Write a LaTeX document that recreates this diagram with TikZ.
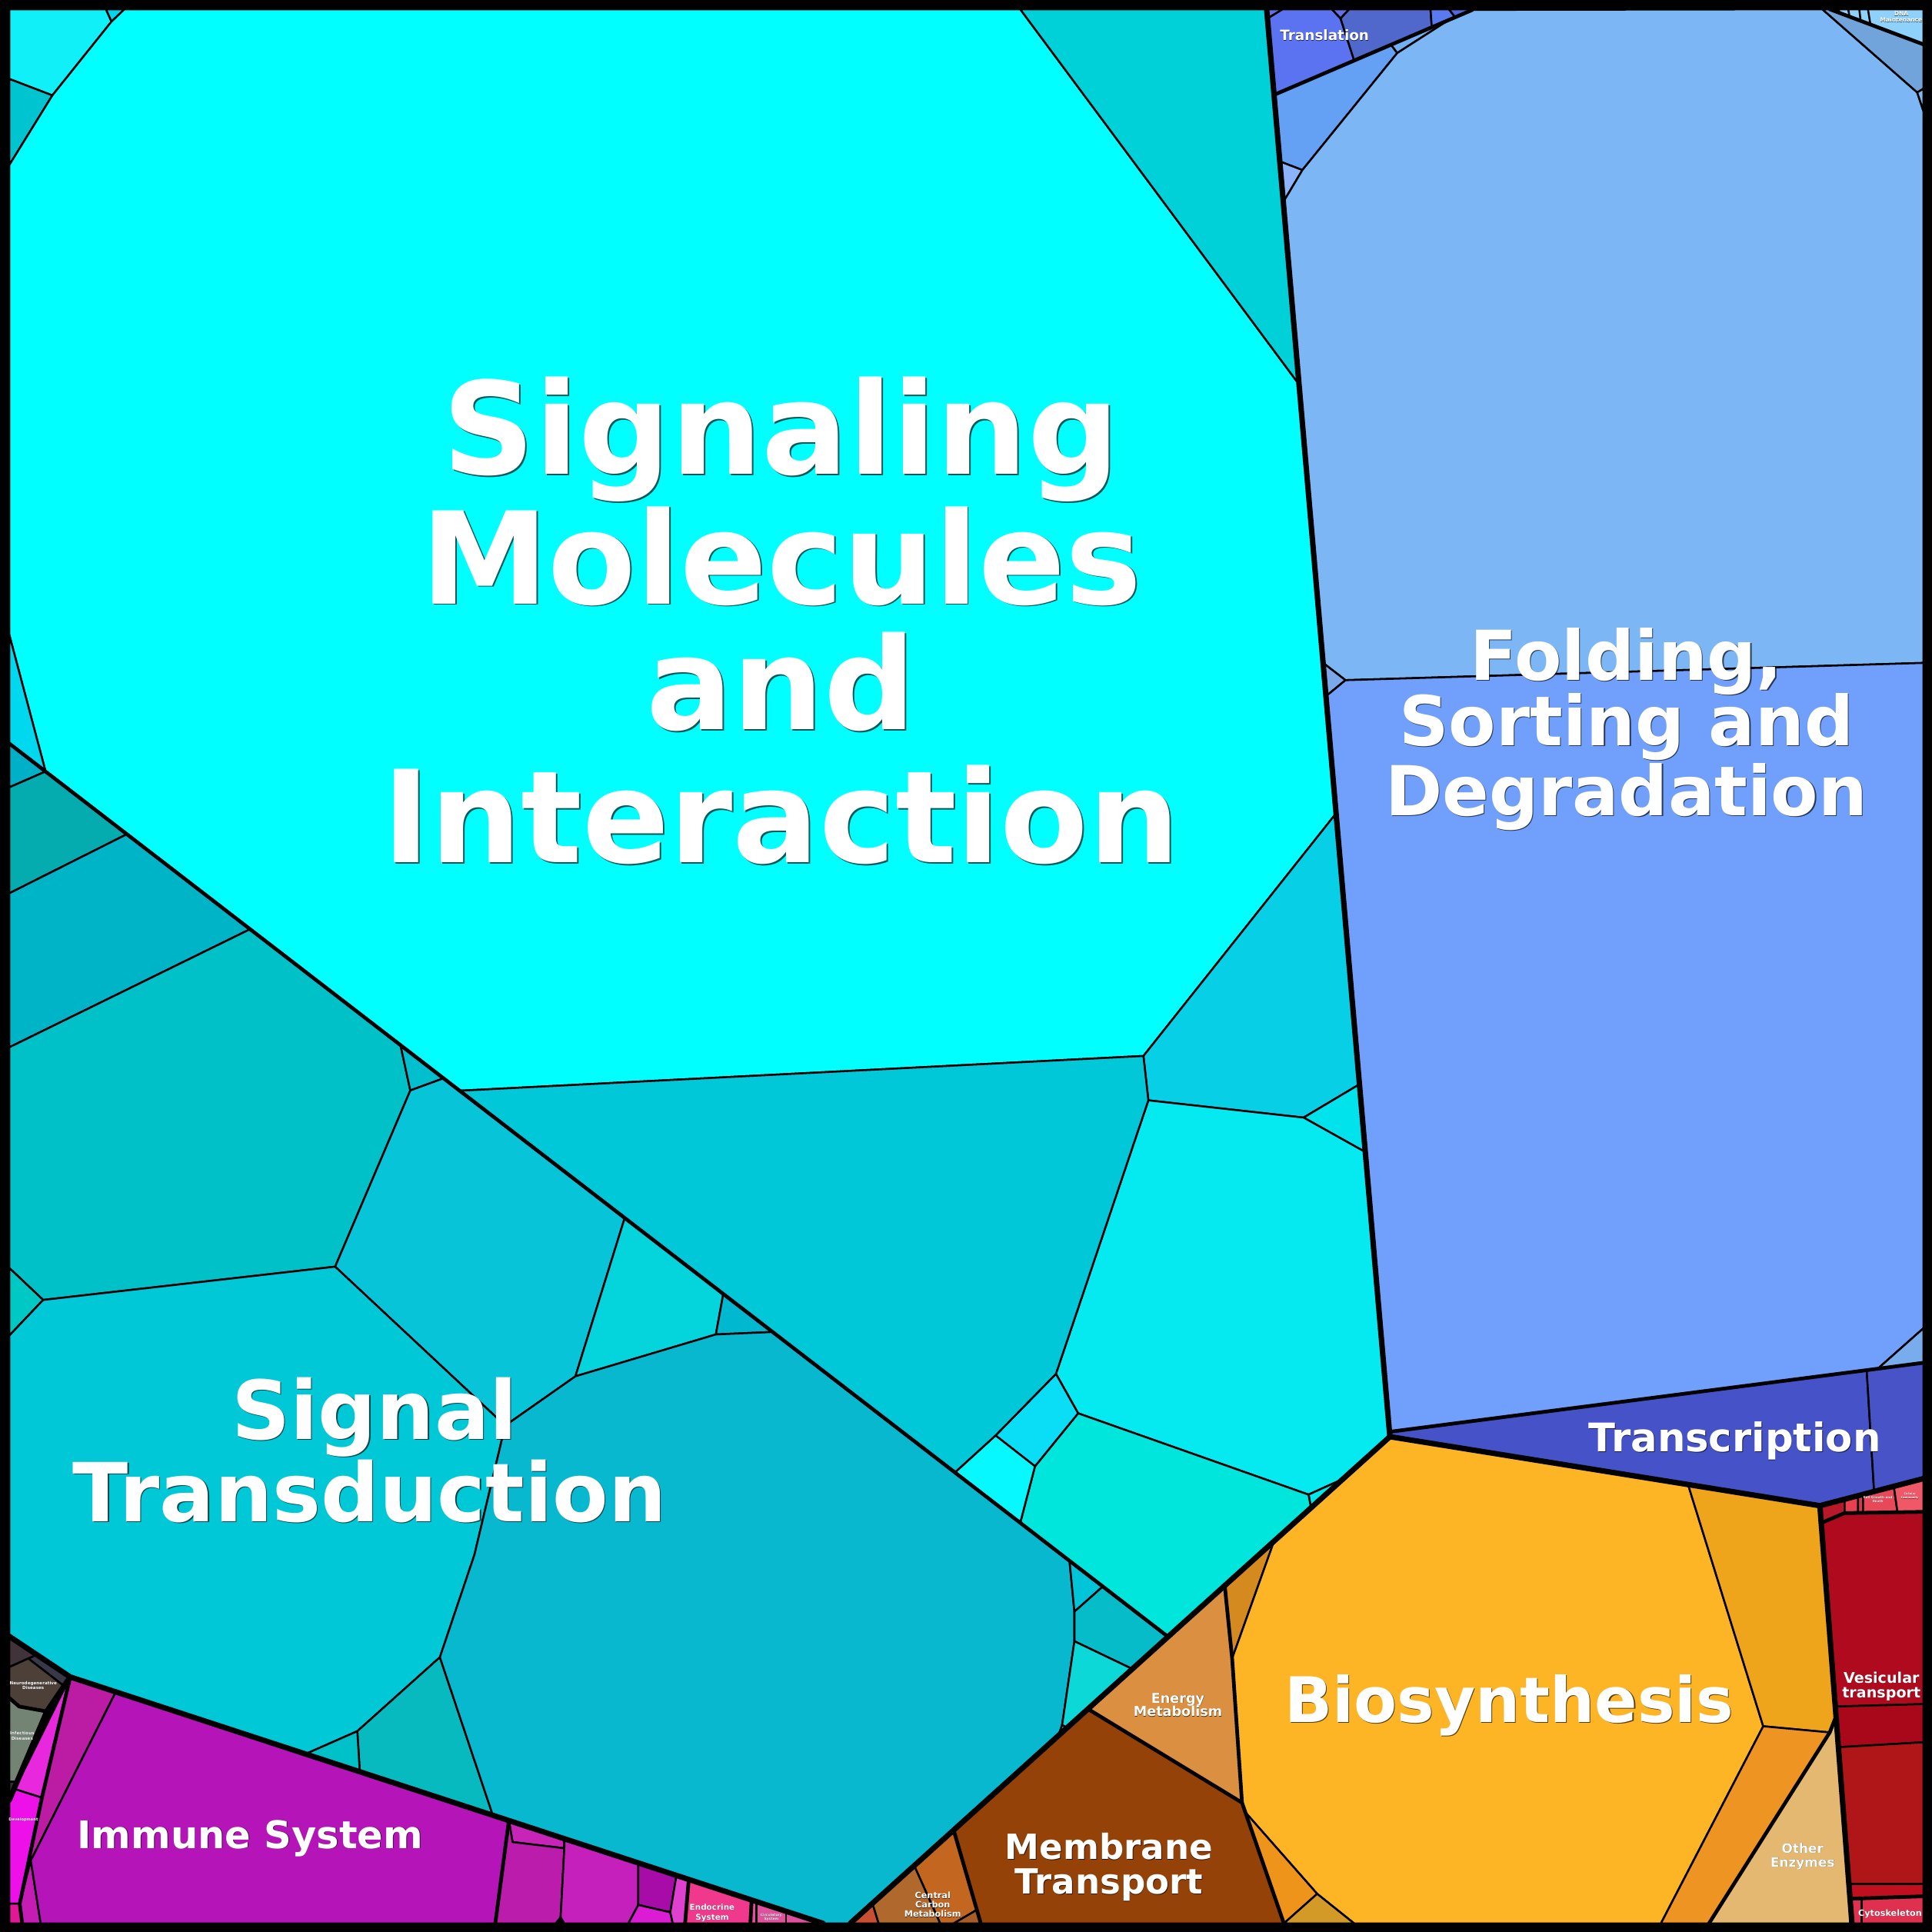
\documentclass[tikz,border=0pt]{standalone}
\usepackage{fontspec}
\setmainfont{DejaVu Sans}
\definecolor{cA1}{HTML}{10F0F8}\definecolor{cA2}{HTML}{04D4EC}\definecolor{cA3}{HTML}{00C4D0}
\definecolor{cBig}{HTML}{00FFFF}\definecolor{cTR}{HTML}{00D0D8}\definecolor{cLS}{HTML}{00D8F0}
\definecolor{cR1}{HTML}{07D0E6}\definecolor{cR2}{HTML}{00E2EC}\definecolor{cR3}{HTML}{04EAF0}
\definecolor{cR4}{HTML}{00E8EC}\definecolor{cTQ}{HTML}{00E6DC}\definecolor{cSB}{HTML}{0ADEF6}
\definecolor{cBC}{HTML}{08F8FF}\definecolor{cMID}{HTML}{00C8D8}
\definecolor{ca}{HTML}{00B0C8}\definecolor{cb}{HTML}{04ACB0}\definecolor{cc}{HTML}{00B4C8}
\definecolor{cd}{HTML}{00C0C8}\definecolor{cdd}{HTML}{00C8C4}\definecolor{ce}{HTML}{00C0D0}
\definecolor{cf}{HTML}{08C4D8}\definecolor{cg}{HTML}{04D4DC}\definecolor{ch}{HTML}{00B8D0}
\definecolor{cm}{HTML}{00C8D6}\definecolor{cn}{HTML}{06BAC0}\definecolor{co}{HTML}{00C0C8}
\definecolor{ci}{HTML}{08B8CE}\definecolor{cj}{HTML}{00C4D8}\definecolor{ck}{HTML}{06BCC8}
\definecolor{cl}{HTML}{0CD8D8}
\definecolor{cT0}{HTML}{6070E8}\definecolor{cT1}{HTML}{5B73F0}\definecolor{cTt}{HTML}{5F70E8}
\definecolor{cT2}{HTML}{5068CC}\definecolor{cT3}{HTML}{5A7AF0}\definecolor{cT4}{HTML}{5068E0}
\definecolor{cS1}{HTML}{64A0F4}\definecolor{cS2}{HTML}{72B0F4}\definecolor{cS3}{HTML}{8CB4FC}
\definecolor{cF1}{HTML}{7CB6F4}\definecolor{cF2}{HTML}{72A4DC}\definecolor{cF3}{HTML}{80B8F0}
\definecolor{cDNA}{HTML}{8ED2FC}\definecolor{cF4}{HTML}{70A0FC}\definecolor{cF5}{HTML}{78ACEC}
\definecolor{cF6}{HTML}{7AA8E8}\definecolor{cTr1}{HTML}{4652C8}\definecolor{cTr2}{HTML}{4853C8}
\definecolor{cCSa}{HTML}{B81828}\definecolor{cCSb}{HTML}{E84050}\definecolor{cCSc}{HTML}{D83848}
\definecolor{cCSd}{HTML}{E84858}\definecolor{cCSe}{HTML}{F05868}
\definecolor{cV1}{HTML}{B00A1E}\definecolor{cV2}{HTML}{A8081A}\definecolor{cV3}{HTML}{B01618}
\definecolor{cV4}{HTML}{C01020}\definecolor{cCy}{HTML}{E03050}
\definecolor{cBioTL}{HTML}{D48A1E}\definecolor{cBio}{HTML}{FDB525}\definecolor{cBioR}{HTML}{EEA51C}
\definecolor{cStrip}{HTML}{EE9422}\definecolor{cOther}{HTML}{E4B870}\definecolor{cBioBL}{HTML}{EE941A}
\definecolor{cBioBS}{HTML}{D49A28}\definecolor{cEn}{HTML}{DA9040}\definecolor{cMT}{HTML}{944208}
\definecolor{cCC1}{HTML}{C26620}\definecolor{cCC2}{HTML}{B0682C}\definecolor{cCC3}{HTML}{A85C28}
\definecolor{cCC4}{HTML}{C85030}
\definecolor{cPink}{HTML}{E828DC}\definecolor{cDev}{HTML}{EE10E8}\definecolor{cDig}{HTML}{E01898}
\definecolor{cOS}{HTML}{BC1CA4}\definecolor{cImL}{HTML}{C41CB4}\definecolor{cIm}{HTML}{B414B8}
\definecolor{cI2}{HTML}{C824B8}\definecolor{cI3}{HTML}{BC1CAC}\definecolor{cI4}{HTML}{C620BC}
\definecolor{cI5}{HTML}{A80CA8}\definecolor{cI6}{HTML}{DC1CD4}\definecolor{cIth}{HTML}{E040D0}
\definecolor{cEndo}{HTML}{F0388C}\definecolor{cCirc}{HTML}{E0509C}
\definecolor{cD1}{HTML}{40343A}\definecolor{cD2}{HTML}{383848}\definecolor{cNeu}{HTML}{4C4038}
\definecolor{cInf}{HTML}{748474}\definecolor{cD3}{HTML}{303030}
\newcommand{\lb}[6]{%
 \node[lblsh, font=\fontsize{#4pt}{#4pt}\selectfont\bfseries, xshift=#5pt, yshift=-#5pt] (#1s) at (#2,#3) {#6};
 \node[lbl, font=\fontsize{#4pt}{#4pt}\selectfont\bfseries] (#1) at (#2,#3) {#6};}
\begin{document}
\begin{tikzpicture}[x=0.1mm, y=-0.1mm,
  cell/.style={draw=black, line width=0.45pt, line join=round},
  mid/.style={draw=black, line width=0.85pt, line join=round, line cap=round},
  top/.style={draw=black, line width=1.25pt, line join=round, line cap=round},
  thin/.style={draw=black, line width=0.45pt},
  lbl/.style={anchor=base, inner sep=0pt, text=white},
  lblsh/.style={anchor=base, inner sep=0pt, text=black, opacity=0.65}]
\useasboundingbox (0,0) rectangle (1568,1568);
\fill[black] (0,0) rectangle (1568,1568);
% ---------- Signaling Molecules and Interaction
\path[cell, fill=cA1] (7.5,7.5)--(86,7.5)--(90.5,17.5)--(42.5,77.4)--(7.5,64)--cycle;
\path[cell, fill=cA2] (86,7.5)--(101,7.5)--(90.5,17.5)--cycle;
\path[cell, fill=cA3] (7.5,64)--(42.5,77.4)--(7.5,134)--cycle;
\path[cell, fill=cBig] (101,7.5)--(828,7.5)--(1054.3,312)--(1084.4,660)--(928,857)--(373,885.2)--(37,626.1)--(7.5,515)--(7.5,134)--(42.5,77.4)--(90.5,17.5)--cycle;
\path[cell, fill=cTR] (828,7.5)--(1028,7.5)--(1054.3,312)--cycle;
\path[cell, fill=cLS] (7.5,515)--(37,626.1)--(7.5,603.4)--cycle;
\path[cell, fill=cR1] (1084.4,660)--(1103.3,880)--(1058,907)--(932,893)--(928,857)--cycle;
\path[cell, fill=cR2] (1058,907)--(1103.3,880)--(1108.1,935)--cycle;
\path[cell, fill=cR3] (932,893)--(1058,907)--(1108.1,935)--(1128,1166)--(1090,1200.3)--(1062,1213)--(875,1147)--(857,1115)--cycle;
\path[cell, fill=cR4] (1062,1213)--(1090,1200.3)--(1064,1223.7)--cycle;
\path[cell, fill=cTQ] (875,1147)--(1062,1213)--(1064,1223.7)--(948,1328.4)--(828,1235.9)--(840,1190)--cycle;
\path[cell, fill=cSB] (857,1115)--(875,1147)--(840,1190)--(808,1165)--cycle;
\path[cell, fill=cBC] (808,1165)--(840,1190)--(828,1235.9)--(775,1195)--cycle;
\path[cell, fill=cMID] (373,885.2)--(928,857)--(932,893)--(857,1115)--(808,1165)--(775,1195)--cycle;
% ---------- Signal Transduction
\path[cell, fill=ca] (7.5,603.4)--(37,626.1)--(7.5,639)--cycle;
\path[cell, fill=cb] (7.5,639)--(37,626.1)--(103,677)--(7.5,725)--cycle;
\path[cell, fill=cc] (7.5,725)--(103,677)--(203,754.1)--(7.5,850)--cycle;
\path[cell, fill=cd] (7.5,850)--(203,754.1)--(325,848.1)--(333,885)--(272,1028)--(35,1055)--(7.5,1029)--cycle;
\path[cell, fill=cdd] (7.5,1029)--(35,1055)--(7.5,1084)--cycle;
\path[cell, fill=ce] (325,848.1)--(360,875.1)--(333,885)--cycle;
\path[cell, fill=cf] (333,885)--(360,875.1)--(507,988.5)--(467,1117)--(410,1157)--(272,1028)--cycle;
\path[cell, fill=cg] (507,988.5)--(587,1050.1)--(581,1083)--(467,1117)--cycle;
\path[cell, fill=ch] (587,1050.1)--(627,1081)--(581,1083)--cycle;
\path[cell, fill=cm] (7.5,1084)--(35,1055)--(272,1028)--(410,1157)--(385,1262)--(357,1345)--(290,1405)--(248,1423.5)--(57,1361)--(7.5,1328)--cycle;
\path[cell, fill=cn] (290,1405)--(357,1345)--(400,1473.3)--(292,1437.9)--cycle;
\path[cell, fill=co] (248,1423.5)--(290,1405)--(292,1437.9)--cycle;
\path[cell, fill=ci] (410,1157)--(467,1117)--(581,1083)--(627,1081)--(868,1266.8)--(872,1308)--(872,1332)--(862,1400)--(859,1408.6)--(690,1561)--(668,1561)--(400,1473.3)--(357,1345)--(385,1262)--cycle;
\path[cell, fill=cj] (868,1266.8)--(895,1287.6)--(872,1308)--cycle;
\path[cell, fill=ck] (872,1308)--(895,1287.6)--(948,1328.4)--(919,1354.5)--(872,1332)--cycle;
\path[cell, fill=cl] (872,1332)--(919,1354.5)--(866,1402.3)--(862,1400)--cycle;
\path[cell, fill=cj] (862,1400)--(866,1402.3)--(859,1408.6)--cycle;
% ---------- Genetic Information Processing
\path[cell, fill=cT0] (1028,7.5)--(1041,7.5)--(1028.7,15)--cycle;
\path[cell, fill=cT1] (1028.7,15)--(1041,7.5)--(1081,7.5)--(1088,15)--(1099,49)--(1034,77)--cycle;
\path[cell, fill=cTt] (1081,7.5)--(1095,7.5)--(1088,15)--cycle;
\path[cell, fill=cT2] (1088,15)--(1095,7.5)--(1161,7.5)--(1162,22)--(1099,49)--cycle;
\path[cell, fill=cT3] (1161,7.5)--(1176,7.5)--(1181,14)--(1162,22)--cycle;
\path[cell, fill=cT4] (1176,7.5)--(1195,7.5)--(1181,14)--cycle;
\path[cell, fill=cS1] (1034,77)--(1129,36.3)--(1134,43)--(1057,138)--(1038.7,131)--cycle;
\path[cell, fill=cS2] (1129,36.3)--(1176,16.1)--(1134,43)--cycle;
\path[cell, fill=cS3] (1038.7,131)--(1057,138)--(1041.5,164)--cycle;
\path[cell, fill=cF1] (1057,138)--(1134,43)--(1176,16.1)--(1195,8)--(1479,7.5)--(1556,75)--(1561,90)--(1561,538)--(1092,552)--(1073.8,538)--(1041.5,164)--cycle;
\path[cell, fill=cF2] (1479,7.5)--(1485,7.5)--(1561,36)--(1561,72)--(1556,75)--cycle;
\path[cell, fill=cF3] (1556,75)--(1561,72)--(1561,90)--cycle;
\path[cell, fill=cDNA] (1485,7.5)--(1561,7.5)--(1561,36)--cycle;
\draw[thin] (1492,7.5)--(1493,10.1) (1500,7.5)--(1501,13.1) (1509,7.5)--(1510,16.5) (1516,7.5)--(1518,19.8);
\path[cell, fill=cF6] (1073.8,538)--(1092,552)--(1076.2,565)--cycle;
\path[cell, fill=cF4] (1076.2,565)--(1092,552)--(1561,538)--(1561,1078)--(1524,1110.8)--(1515,1112)--(1128,1162)--cycle;
\path[cell, fill=cF5] (1524,1110.8)--(1561,1078)--(1561,1106)--cycle;
\path[cell, fill=cTr1] (1128,1162)--(1515,1112)--(1521,1210.5)--(1477,1222)--(1128,1166)--cycle;
\path[cell, fill=cTr2] (1515,1112)--(1561,1106)--(1561,1200)--(1521,1210.5)--cycle;
% ---------- Cellular Processes
\path[cell, fill=cCSa] (1477,1222)--(1497,1216.8)--(1497,1228)--(1478.1,1236)--cycle;
\path[cell, fill=cCSb] (1497,1216.8)--(1508,1213.9)--(1508,1228)--(1497,1228)--cycle;
\path[cell, fill=cCSc] (1508,1213.9)--(1512,1212.8)--(1512,1228)--(1508,1228)--cycle;
\path[cell, fill=cCSd] (1512,1212.8)--(1537,1206.3)--(1540,1227.4)--(1512,1228)--cycle;
\path[cell, fill=cCSe] (1537,1206.3)--(1561,1200)--(1561,1227)--(1540,1227.4)--cycle;
\path[cell, fill=cV1] (1478.1,1236)--(1497,1228)--(1561,1227)--(1561,1383)--(1489.5,1385)--cycle;
\path[cell, fill=cV2] (1489.5,1385)--(1561,1383)--(1561,1414)--(1492,1418)--cycle;
\path[cell, fill=cV3] (1492,1418)--(1561,1414)--(1561,1529)--(1500.5,1529)--cycle;
\path[cell, fill=cV4] (1500.5,1529)--(1561,1529)--(1561,1539)--(1501.5,1541)--cycle;
\path[cell, fill=cCy] (1501.5,1541)--(1561,1539)--(1561,1561)--(1503,1561)--cycle;
\draw[thin] (1511,1540.8)--(1511,1561);
% ---------- Metabolism
\path[cell, fill=cBioTL] (994,1286.9)--(1034,1250.8)--(1000,1346)--cycle;
\path[cell, fill=cBio] (1034,1250.8)--(1128,1166)--(1370,1204.8)--(1431,1401)--(1348,1561)--(1099,1561)--(1069,1537)--(1010,1470)--(1008,1463)--(1000,1346)--cycle;
\path[cell, fill=cBioR] (1370,1204.8)--(1477,1222)--(1490.1,1393)--(1485,1406)--(1431,1401)--cycle;
\path[cell, fill=cStrip] (1431,1401)--(1485,1406)--(1387,1561)--(1348,1561)--cycle;
\path[cell, fill=cOther] (1485,1406)--(1490.1,1393)--(1503,1561)--(1387,1561)--cycle;
\path[cell, fill=cBioBL] (1008,1463)--(1010,1470)--(1069,1537)--(1042,1561)--cycle;
\path[cell, fill=cBioBS] (1069,1537)--(1099,1561)--(1042,1561)--cycle;
\path[cell, fill=cEn] (883,1387)--(994,1286.9)--(1000,1346)--(1008,1463)--cycle;
\path[cell, fill=cMT] (774,1485.3)--(883,1387)--(1008,1463)--(1042,1561)--(796,1561)--cycle;
\path[cell, fill=cCC1] (742,1514.2)--(774,1485.3)--(792.8,1550)--(774,1561)--(763,1561)--cycle;
\path[cell, fill=cCC3] (792.8,1550)--(796,1561)--(774,1561)--cycle;
\path[cell, fill=cCC2] (708,1544.8)--(742,1514.2)--(763,1561)--(713,1561)--cycle;
\path[cell, fill=cCC4] (690,1561)--(708,1544.8)--(713,1561)--cycle;
% ---------- Organismal Systems
\path[cell, fill=cPink] (56,1363)--(12,1452)--(34,1459)--cycle;
\path[cell, fill=cDev] (7.5,1461)--(12,1452)--(34,1459)--(16,1545)--(7.5,1545)--cycle;
\path[cell, fill=cDig] (7.5,1545)--(16,1545)--(18,1561)--(7.5,1561)--cycle;
\path[cell, fill=cOS] (57,1361)--(94,1373.1)--(25,1510)--(16,1545)--(34,1459)--(56,1363)--cycle;
\path[cell, fill=cImL] (16,1545)--(25,1510)--(33,1561)--(18,1561)--cycle;
\path[cell, fill=cIm] (94,1373.1)--(413,1477.5)--(402,1561)--(33,1561)--(25,1510)--cycle;
\path[cell, fill=cI2] (413,1477.5)--(458,1492.2)--(458,1500)--(416,1495)--cycle;
\path[cell, fill=cI3] (413,1477.5)--(416,1495)--(458,1500)--(455,1556)--(451,1561)--(402,1561)--cycle;
\path[cell, fill=cI4] (458,1492.2)--(518,1511.9)--(518,1546)--(510,1561)--(458,1561)--(455,1556)--(458,1500)--cycle;
\path[cell, fill=cI5] (518,1511.9)--(549,1522)--(544,1552)--(518,1546)--cycle;
\path[cell, fill=cI6] (518,1546)--(544,1552)--(546,1561)--(510,1561)--cycle;
\path[cell, fill=cIth] (549,1522)--(559,1525.3)--(556,1561)--(546,1561)--(544,1552)--cycle;
\path[cell, fill=cEndo] (559,1525.3)--(610,1542)--(609,1561)--(556,1561)--cycle;
\path[cell, fill=cCirc] (610,1542)--(668,1561)--(609,1561)--cycle;
\draw[thin] (614,1543.3)--(614,1561) (638,1551.2)--(638,1561);
% ---------- Human Diseases
\path[cell, fill=cD1] (7.5,1328)--(30,1343)--(23,1346)--(7.5,1353)--cycle;
\path[cell, fill=cD2] (30,1343)--(57,1361)--(52,1368.4)--(23,1346)--cycle;
\path[cell, fill=cNeu] (7.5,1353)--(23,1346)--(52,1368.4)--(38,1389)--(15.6,1385)--(7.5,1378)--cycle;
\path[cell, fill=cInf] (7.5,1378)--(15.6,1385)--(38,1389)--(14,1446)--(7.5,1446)--cycle;
\path[cell, fill=cD3] (7.5,1446)--(14,1446)--(7.5,1461)--cycle;
% ---------- second-level boundaries
\draw[mid] (7.5,603.4)--(948,1328.4);
\draw[mid] (1034,77)--(1195,8);
\draw[mid] (1128,1162)--(1515,1112)--(1561,1106);
\draw[mid] (1485,7.5)--(1561,36);
\draw[mid] (994,1286.9)--(1000,1346)--(1008,1463)--(1042,1561);
\draw[mid] (883,1387)--(1008,1463);
\draw[mid] (774,1485.3)--(796,1561);
\draw[mid] (1490.1,1393)--(1485,1406)--(1387,1561);
\draw[mid] (1478.1,1236)--(1497,1228)--(1561,1227);
\draw[mid] (1501.5,1541)--(1561,1539);
\draw[mid] (57,1361)--(34,1459)--(16,1545)--(18,1561);
\draw[mid] (413,1477.5)--(402,1561);
\draw[mid] (559,1525.3)--(556,1561) (610,1542)--(609,1561);
\draw[mid] (7.5,1378)--(15.6,1385)--(38,1389);
% ---------- top-level boundaries
\draw[top] (1028,7.5)--(1128,1166);
\draw[top] (1128,1166)--(690,1561);
\draw[top] (1128,1166)--(1477,1222)--(1561,1200);
\draw[top] (1477,1222)--(1503,1561);
\draw[top] (7.5,1328)--(57,1361)--(668,1561);
\draw[top] (57,1361)--(38,1389)--(7.5,1461);
% ---------- frame
\fill[black, even odd rule] (0,0) rectangle (1568,1568) (7.5,7.5) rectangle (1560.5,1560.5);
% ---------- labels
\lb{sm1}{634}{385}{29.6}{0.35}{Signaling}
\lb{sm2}{634}{490}{29.6}{0.35}{Molecules}
\lb{sm3}{634}{592}{29.6}{0.35}{and}
\lb{sm4}{634}{700}{29.6}{0.35}{Interaction}
\lb{fo1}{1320}{552}{15.9}{0.22}{Folding,}
\lb{fo2}{1320}{605}{15.9}{0.22}{Sorting and}
\lb{fo3}{1320}{662}{15.9}{0.22}{Degradation}
\lb{st1}{304}{1168}{18.8}{0.25}{Signal}
\lb{st2}{300}{1235}{18.8}{0.25}{Transduction}
\lb{trc}{1408}{1178}{9.1}{0.14}{Transcription}
\lb{bio}{1225}{1398}{14.5}{0.2}{Biosynthesis}
\lb{mt1}{900}{1509}{8.0}{0.13}{Membrane}
\lb{mt2}{900}{1537}{8.0}{0.13}{Transport}
\lb{imm}{203}{1500}{8.8}{0.13}{Immune System}
\lb{en1}{956}{1382}{3.13}{0.06}{Energy}
\lb{en2}{956}{1393}{3.13}{0.06}{Metabolism}
\lb{ve1}{1527}{1366}{3.4}{0.06}{Vesicular}
\lb{ve2}{1527}{1378}{3.4}{0.06}{transport}
\lb{oe1}{1463}{1504}{3.0}{0.05}{Other}
\lb{oe2}{1463}{1515}{3.0}{0.05}{Enzymes}
\lb{cyt}{1534}{1555}{2.0}{0.04}{Cytoskeleton}
\lb{trl}{1075}{33}{3.27}{0.06}{Translation}
\lb{cc1}{757}{1541}{2.0}{0.04}{Central}
\lb{cc2}{757}{1548.5}{2.0}{0.04}{Carbon}
\lb{cc3}{757}{1556}{2.0}{0.04}{Metabolism}
\lb{ed1}{578}{1550}{1.85}{0.04}{Endocrine}
\lb{ed2}{578}{1558}{1.85}{0.04}{System}
\lb{dna1}{1543}{13}{1.34}{0.03}{DNA}
\lb{dna2}{1543}{18}{1.34}{0.03}{Maintenance}
\lb{ci1}{626}{1555}{0.8}{0.02}{Circulatory}
\lb{ci2}{626}{1558.5}{0.8}{0.02}{System}
\lb{nd1}{27}{1367}{1.0}{0.02}{Neurodegenerative}
\lb{nd2}{27}{1371}{1.0}{0.02}{Diseases}
\lb{in1}{18}{1408}{1.0}{0.02}{Infectious}
\lb{in2}{18}{1412}{1.0}{0.02}{Diseases}
\lb{dev}{19}{1478}{0.9}{0.02}{Development}
\lb{cg1}{1524}{1216}{0.74}{0.02}{Cell Growth and}
\lb{cg2}{1524}{1219.5}{0.74}{0.02}{Death}
\lb{cm1}{1550}{1213}{0.63}{0.02}{Cellular}
\lb{cm2}{1550}{1216.5}{0.63}{0.02}{Community}
\end{tikzpicture}
\end{document}
